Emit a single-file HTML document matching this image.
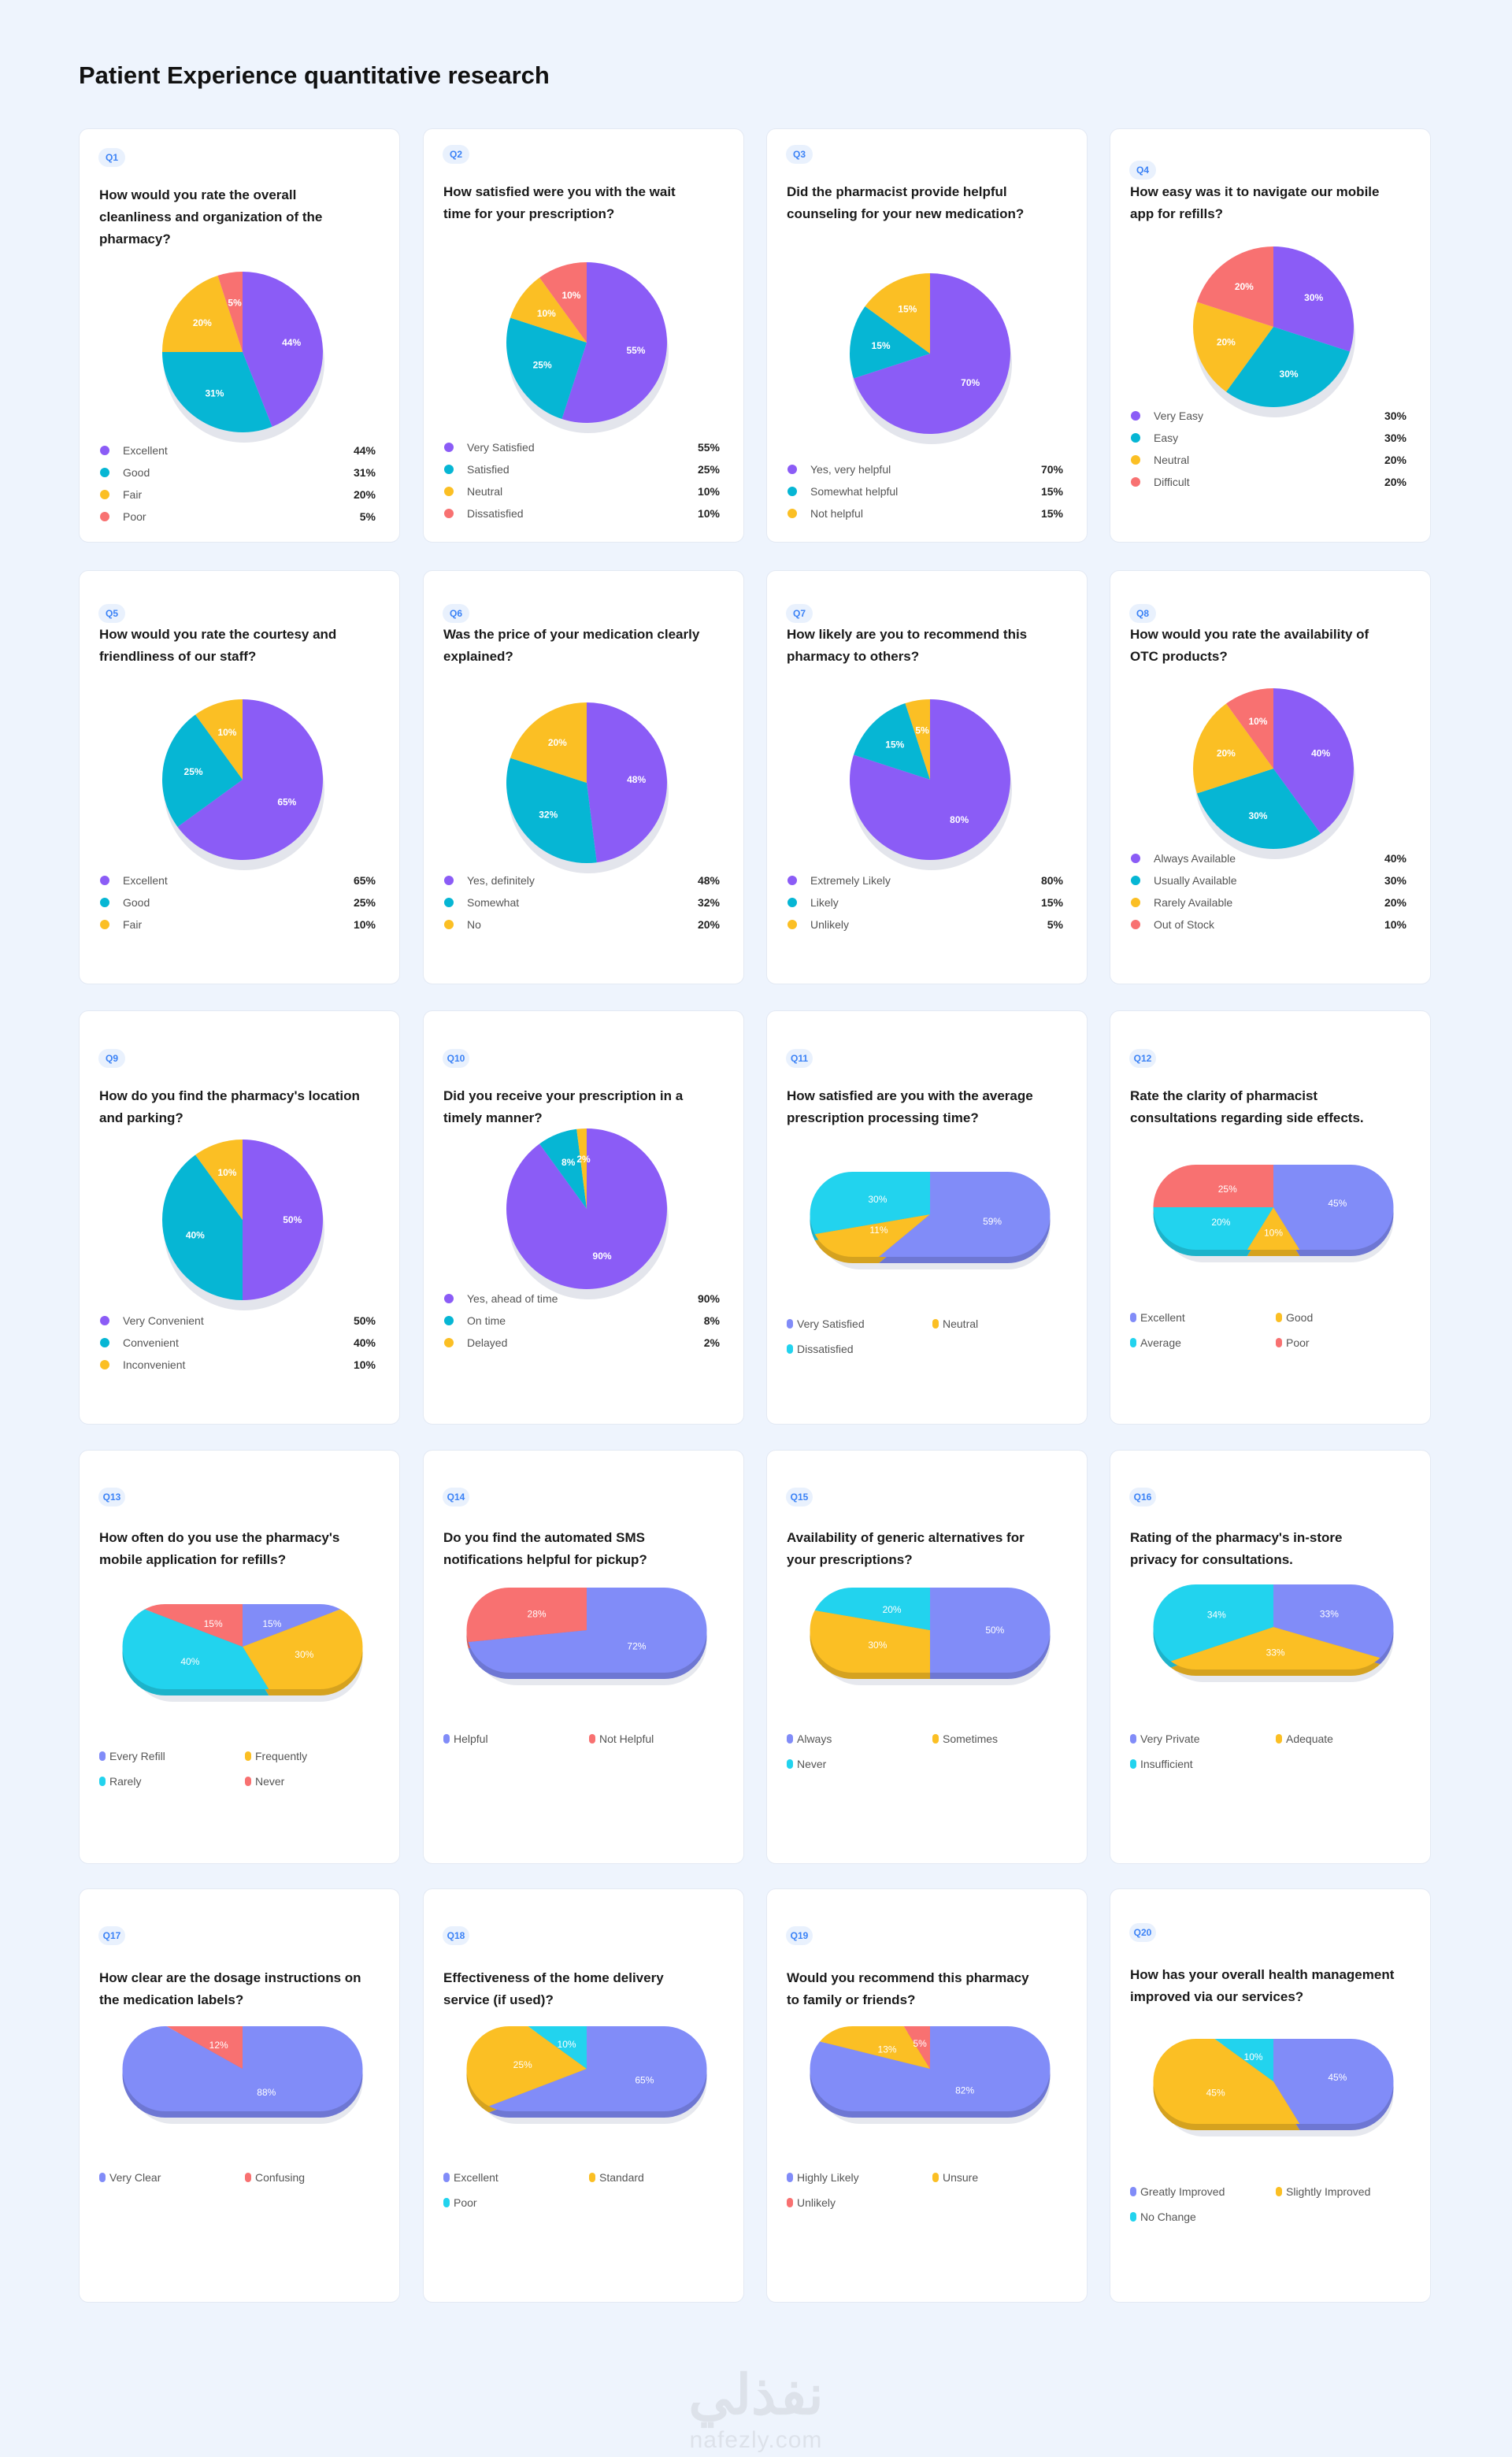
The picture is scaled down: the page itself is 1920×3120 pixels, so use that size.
<!DOCTYPE html>
<html><head><meta charset="utf-8">
<style>
*{box-sizing:border-box;margin:0;padding:0}
body{width:1920px;height:3120px;background:#eef4fd;font-family:"Liberation Sans","Noto Sans CJK SC",sans-serif;position:relative;overflow:hidden}
h1{position:absolute;left:100px;top:78px;font-size:31px;font-weight:bold;color:#111}
.card{position:absolute;width:408px;height:526px;background:#fff;border-radius:12px;border:1px solid #e3e9f3}
.badge{position:absolute;left:24px;width:34px;height:24px;border-radius:12px;background:#e9f1fd;color:#3b82f6;font-size:12px;font-weight:bold;line-height:24px;text-align:center}
.title{position:absolute;left:25px;width:360px;font-size:17px;font-weight:bold;color:#1a1a1a;line-height:28px}
svg.chart{position:absolute;left:0;top:0}
.leg{position:absolute;font-size:14px;color:#555;height:20px;line-height:20px}
.val{position:absolute;font-size:14px;font-weight:bold;color:#222;right:30px;text-align:right;height:20px;line-height:20px}
.wm1{position:absolute;left:0;width:1920px;text-align:center;top:3000px;font-size:70px;font-weight:bold;color:#dde2ea}
.wm2{position:absolute;left:0;width:1920px;text-align:center;top:3082px;font-size:30px;color:#dde2ea;letter-spacing:1px}
</style></head>
<body>
<h1>Patient Experience quantitative research</h1>
<div id="root"></div>
<div class="wm1">نفذلي</div>
<div class="wm2">nafezly.com</div>
<script>
const q1Categories=["Excellent","Good","Fair","Poor"];const q1Values=[44,31,20,5];
const q2Categories=["Very Satisfied","Satisfied","Neutral","Dissatisfied"];const q2Values=[55,25,10,10];
const q3Categories=["Yes, very helpful","Somewhat helpful","Not helpful"];const q3Values=[70,15,15];
const q4Categories=["Very Easy","Easy","Neutral","Difficult"];const q4Values=[30,30,20,20];
const q5Categories=["Excellent","Good","Fair"];const q5Values=[65,25,10];
const q6Categories=["Yes, definitely","Somewhat","No"];const q6Values=[48,32,20];
const q7Categories=["Extremely Likely","Likely","Unlikely"];const q7Values=[80,15,5];
const q8Categories=["Always Available","Usually Available","Rarely Available","Out of Stock"];const q8Values=[40,30,20,10];
const q9Categories=["Very Convenient","Convenient","Inconvenient"];const q9Values=[50,40,10];
const q10Categories=["Yes, ahead of time","On time","Delayed"];const q10Values=[90,8,2];
const q11Categories=["Very Satisfied","Neutral","Dissatisfied"];const q11Values=[59,11,30];
const q12Categories=["Excellent","Good","Average","Poor"];const q12Values=[45,10,20,25];
const q13Categories=["Every Refill","Frequently","Rarely","Never"];const q13Values=[15,30,40,15];
const q14Categories=["Helpful","Not Helpful"];const q14Values=[72,28];
const q15Categories=["Always","Sometimes","Never"];const q15Values=[50,30,20];
const q16Categories=["Very Private","Adequate","Insufficient"];const q16Values=[33,33,34];
const q17Categories=["Very Clear","Confusing"];const q17Values=[88,12];
const q18Categories=["Excellent","Standard","Poor"];const q18Values=[65,25,10];
const q19Categories=["Highly Likely","Unsure","Unlikely"];const q19Values=[82,13,5];
const q20Categories=["Greatly Improved","Slightly Improved","No Change"];const q20Values=[45,45,10];
const questions=["How would you rate the overall<br>cleanliness and organization of the<br>pharmacy?","How satisfied were you with the wait<br>time for your prescription?","Did the pharmacist provide helpful<br>counseling for your new medication?","How easy was it to navigate our mobile<br>app for refills?","How would you rate the courtesy and<br>friendliness of our staff?","Was the price of your medication clearly<br>explained?","How likely are you to recommend this<br>pharmacy to others?","How would you rate the availability of<br>OTC products?","How do you find the pharmacy's location<br>and parking?","Did you receive your prescription in a<br>timely manner?","How satisfied are you with the average<br>prescription processing time?","Rate the clarity of pharmacist<br>consultations regarding side effects.","How often do you use the pharmacy's<br>mobile application for refills?","Do you find the automated SMS<br>notifications helpful for pickup?","Availability of generic alternatives for<br>your prescriptions?","Rating of the pharmacy's in-store<br>privacy for consultations.","How clear are the dosage instructions on<br>the medication labels?","Effectiveness of the home delivery<br>service (if used)?","Would you recommend this pharmacy<br>to family or friends?","How has your overall health management<br>improved via our services?"];
const allCats=[q1Categories,q2Categories,q3Categories,q4Categories,q5Categories,q6Categories,q7Categories,q8Categories,q9Categories,q10Categories,q11Categories,q12Categories,q13Categories,q14Categories,q15Categories,q16Categories,q17Categories,q18Categories,q19Categories,q20Categories];
const allVals=[q1Values,q2Values,q3Values,q4Values,q5Values,q6Values,q7Values,q8Values,q9Values,q10Values,q11Values,q12Values,q13Values,q14Values,q15Values,q16Values,q17Values,q18Values,q19Values,q20Values];
const colX=[100,537,973,1409], rowY=[163,724,1283,1841,2398];
const badgeOff=[36,32,32,52,54,54,54,54,60,60,60,60,59,59,59,59,59,59,59,55];
const titleOff=[70,66,66,66,67,67,67,67,94,94,94,94,97,97,97,97,99,99,99,95];
const chartY=[446,434,448,414,989,993,989,975,1548,1534,1541,1532,2090,2069,2069,2065,2626,2626,2626,2642];
const legY=[571,567,595,527,1117,1117,1117,1089,1676,1648,1680,1672,2229,2207,2207,2207,2764,2764,2764,2782];
const pieCol=["#8b5cf6","#06b6d4","#fbbf24","#f87171"];
function pillColors(i){
  const m={11:["#818cf8","#fbbf24","#22d3ee","#f87171"],12:["#818cf8","#fbbf24","#22d3ee","#f87171"],13:["#818cf8","#f87171"],16:["#818cf8","#f87171"],18:["#818cf8","#fbbf24","#f87171"]};
  return m[i]||["#818cf8","#fbbf24","#22d3ee"];
}
function darken(h){const n=parseInt(h.slice(1),16);let r=n>>16,g=(n>>8)&255,b=n&255;r=Math.round(r*.85);g=Math.round(g*.85);b=Math.round(b*.85);return "rgb("+r+","+g+","+b+")";}
const NS="http://www.w3.org/2000/svg";
function mk(t,a){const e=document.createElementNS(NS,t);for(const k in a)e.setAttribute(k,a[k]);return e;}
function arc(cx,cy,r,a0,a1,sx){
  const p=a=>[cx+sx*r*Math.sin(a*2*Math.PI),cy-r*Math.cos(a*2*Math.PI)];
  const [x0,y0]=p(a0),[x1,y1]=p(a1);
  if(a1-a0>=0.9999)return `M${cx-sx*r},${cy} A${sx*r},${r} 0 1 1 ${cx+sx*r},${cy} A${sx*r},${r} 0 1 1 ${cx-sx*r},${cy}Z`;
  return `M${cx},${cy} L${x0},${y0} A${sx*r},${r} 0 ${a1-a0>0.5?1:0} 1 ${x1},${y1} Z`;
}
const root=document.getElementById('root');
for(let i=0;i<20;i++){
  const card=document.createElement('div');
  card.className='card';
  
  
  const cx0=colX[i%4], cy0=rowY[Math.floor(i/4)];
  card.style.left=cx0+'px';card.style.top=cy0+'px';
  const b=document.createElement('div');b.className='badge';b.textContent='Q'+(i+1);b.style.top=(badgeOff[i]-12)+'px';
  
  
  card.appendChild(b);
  const t=document.createElement('div');t.className='title';t.innerHTML=questions[i];t.style.top=(titleOff[i])+'px';
  
  
  card.appendChild(t);
  const svg=mk('svg',{class:'chart',width:408,height:526});
  
  
  const vals=allVals[i], cats=allCats[i], tot=vals.reduce((a,b)=>a+b,0);
  const cy=chartY[i]-cy0;
  if(i<10){
    const cx=207,r=102;
    svg.appendChild(mk('ellipse',{cx:cx+2,cy:cy+13,rx:r,ry:r,fill:'#e3e5ec'}));
    let acc=0;
    vals.forEach((v,k)=>{
      const a0=acc/tot,a1=(acc+v)/tot;acc+=v;
      const p=mk('path',{d:arc(cx,cy,r,a0,a1,1),fill:pieCol[k]});
      
      
      svg.appendChild(p);
      const m=(a0+a1)/2*2*Math.PI;
      const tx=mk('text',{x:cx+r*0.62*Math.sin(m),y:cy-r*0.62*Math.cos(m)+4,'text-anchor':'middle','font-size':12,'font-weight':'bold',fill:'#fff','font-family':'Liberation Sans'});
      tx.textContent=v+'%';
      
      
      svg.appendChild(tx);
    });
    const ly=legY[i]-cy0;
    cats.forEach((c,k)=>{
      const d=mk('circle',{cx:32,cy:ly+k*28,r:6,fill:pieCol[k]});
      
      
      svg.appendChild(d);
      const l=document.createElement('div');l.className='leg';l.textContent=c;l.style.left='55px';l.style.top=(ly+k*28-10)+'px';
      
      
      card.appendChild(l);
      const vv=document.createElement('div');vv.className='val';vv.textContent=vals[k]+'%';vv.style.top=(ly+k*28-10)+'px';
      
      
      card.appendChild(vv);
    });
  } else {
    const cols=pillColors(i);
    const cx=207,w=305,h=108,R=170,sx=1.9;
    const cid='clip'+i,cid2='clipb'+i;
    const defs=mk('defs',{});
    const cp=mk('clipPath',{id:cid});cp.appendChild(mk('rect',{x:cx-w/2,y:cy-h/2,width:w,height:h,rx:h/2,ry:h/2}));
    const cp2=mk('clipPath',{id:cid2});cp2.appendChild(mk('rect',{x:cx-w/2,y:cy-h/2+8,width:w,height:h,rx:h/2,ry:h/2}));
    defs.appendChild(cp);defs.appendChild(cp2);svg.appendChild(defs);
    svg.appendChild(mk('rect',{x:cx-w/2+10,y:cy-h/2+16,width:w-10,height:h,rx:h/2,ry:h/2,fill:'#e6e8ee'}));
    const gb=mk('g',{'clip-path':'url(#'+cid2+')'});
    const g=mk('g',{'clip-path':'url(#'+cid+')'});
    svg.appendChild(gb);svg.appendChild(g);
    let acc=0;
    vals.forEach((v,k)=>{
      const a0=acc/tot,a1=(acc+v)/tot;acc+=v;
      gb.appendChild(mk('path',{d:arc(cx,cy+8,R,a0,a1,sx),fill:darken(cols[k])}));
      const p=mk('path',{d:arc(cx,cy,R,a0,a1,sx),fill:cols[k]});
      
      
      g.appendChild(p);
    });
    acc=0;
    vals.forEach((v,k)=>{
      const a0=acc/tot,a1=(acc+v)/tot;acc+=v;
      const m=(a0+a1)/2*2*Math.PI;
      const lx=cx+w*0.27*Math.sin(m), ly2=cy-h*0.3*Math.cos(m)+4;
      const tx=mk('text',{x:lx,y:ly2,'text-anchor':'middle','font-size':12,fill:'#fff','font-family':'Liberation Sans'});
      tx.textContent=v+'%';
      
      
      svg.appendChild(tx);
    });
    const ly=legY[i]-cy0;
    cats.forEach((c,k)=>{
      const colx=(k%2)?210:25, rowy=ly+Math.floor(k/2)*32;
      const d=mk('rect',{x:colx,y:rowy-6,width:8,height:12,rx:4,fill:cols[k]});
      
      
      svg.appendChild(d);
      const l=document.createElement('div');l.className='leg';l.textContent=c;l.style.left=(colx+13)+'px';l.style.top=(rowy-10)+'px';
      
      
      card.appendChild(l);
    });
  }
  card.appendChild(svg);
  root.appendChild(card);
}
</script>
</body></html>
